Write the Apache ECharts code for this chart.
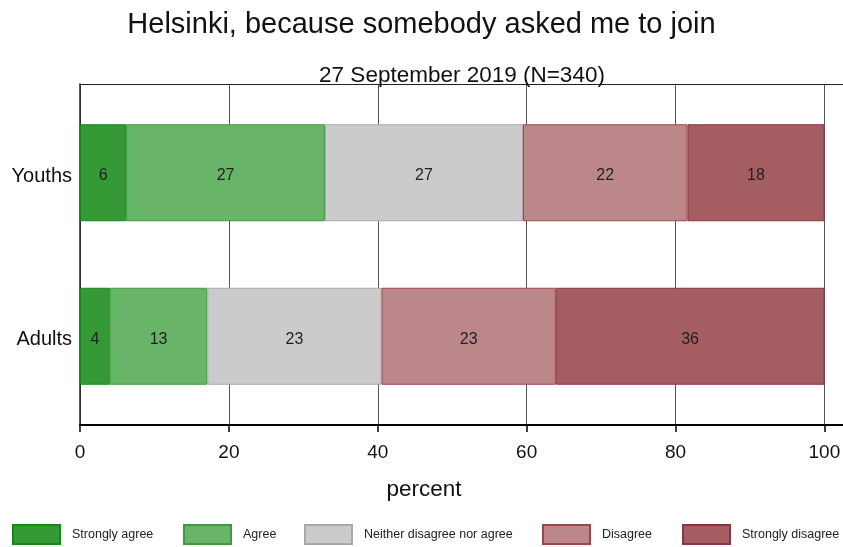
<!DOCTYPE html>
<html>
<head>
<meta charset="utf-8">
<script src="https://cdn.jsdelivr.net/npm/echarts@6/dist/echarts.min.js"></script>
<style>
html,body{margin:0;padding:0;background:#fff;}
#chart{width:843px;height:547px;}
</style>
</head>
<body>
<div id="chart"></div>
<script>
const categories = ['Youths', 'Adults'];
const seriesNames = ['Strongly agree', 'Agree', 'Neither disagree nor agree', 'Disagree', 'Strongly disagree'];
const stronglyAgree = [6.2, 4.0];
const agree = [26.7, 13.1];
const neither = [26.6, 23.4];
const disagree = [22.1, 23.4];
const stronglyDisagree = [18.4, 36.1];
const xTicks = [0, 20, 40, 60, 80, 100];

const fills = ['#359a35', '#68b468', '#cbcbcb', '#bc878a', '#a45e62'];
const borders = ['#118a11', '#3e9a3e', '#a8a8a8', '#a0444c', '#8e3340'];
const values = [stronglyAgree, agree, neither, disagree, stronglyDisagree];
const legendLeft = [12, 183, 304, 542, 682];
const FONT = "'Liberation Sans', Arial, sans-serif";

const chart = echarts.init(document.getElementById('chart'));

const series = seriesNames.map((name, i) => ({
  name: name,
  type: 'bar',
  stack: 'total',
  xAxisIndex: 2,
  yAxisIndex: 1,
  barWidth: 97,
  data: values[i],
  itemStyle: { color: fills[i], borderColor: borders[i], borderWidth: 1 },
  label: {
    show: true,
    position: 'inside',
    offset: [0, 3],
    formatter: p => String(Math.round(p.value)),
    fontFamily: FONT,
    fontSize: 16,
    color: '#222'
  },
  emphasis: { disabled: true },
  animation: false
}));

const legends = seriesNames.map((name, i) => ({
  data: [name],
  left: legendLeft[i],
  top: 524,
  padding: 0,
  itemWidth: 47,
  itemHeight: 19,
  itemGap: 12,
  icon: 'rect',
  textStyle: { fontFamily: FONT, fontSize: 12.5, color: '#222', padding: [0, 0, 0, 7] },
  selectedMode: false
}));

chart.setOption({
  animation: false,
  backgroundColor: '#fff',
  title: [
    { text: 'Helsinki, because somebody asked me to join', left: 'center', top: 5,
      textStyle: { fontFamily: FONT, fontSize: 29, fontWeight: 'normal', color: '#111' } },
    { text: '27 September 2019 (N=340)', left: 457, textAlign: 'center', top: 59,
      textStyle: { fontFamily: FONT, fontSize: 22.5, fontWeight: 'normal', color: '#111' } },
    { text: 'percent', left: 419, textAlign: 'center', top: 473,
      textStyle: { fontFamily: FONT, fontSize: 22.5, fontWeight: 'normal', color: '#111' } }
  ],
  legend: legends,
  grid: [
    { left: 80, right: 0, top: 84, bottom: 122, outerBoundsMode: 'none', containLabel: false },
    { left: 80, right: 18.5, top: 91, bottom: 129, outerBoundsMode: 'none', containLabel: false }
  ],
  xAxis: [
    {
      type: 'value', gridIndex: 0, min: 0, max: 102.5, interval: 20,
      axisLine: { show: true, lineStyle: { color: '#000', width: 2 } },
      axisTick: { show: true, length: 7, lineStyle: { color: '#000', width: 1.5 } },
      axisLabel: {
        fontFamily: FONT, fontSize: 19, color: '#111', margin: 18,
        showMaxLabel: false,
        formatter: v => (xTicks.indexOf(v) >= 0 ? String(v) : '')
      },
      splitLine: { show: true, showMaxLine: false, lineStyle: { color: '#555', width: 1 } }
    },
    {
      type: 'value', gridIndex: 0, position: 'top', min: 0, max: 102.5,
      axisLine: { show: true, onZero: false, lineStyle: { color: '#222', width: 1 } },
      axisTick: { show: false }, axisLabel: { show: false }, splitLine: { show: false }
    },
    {
      type: 'value', gridIndex: 1, min: 0, max: 100, show: false
    }
  ],
  yAxis: [
    {
      type: 'value', gridIndex: 0, min: 0, max: 1,
      axisLine: { show: true, lineStyle: { color: '#222', width: 1.5 } },
      axisTick: { show: false }, axisLabel: { show: false }, splitLine: { show: false }
    },
    {
      type: 'category', gridIndex: 1, data: categories, inverse: true,
      axisLine: { show: false }, axisTick: { show: false },
      axisLabel: {
        margin: 8,
        formatter: v => '{c|' + v + '}',
        rich: { c: { fontFamily: FONT, fontSize: 20, color: '#111', padding: [7, 0, 0, 0] } }
      }
    }
  ],
  series: series
});
</script>
</body>
</html>
